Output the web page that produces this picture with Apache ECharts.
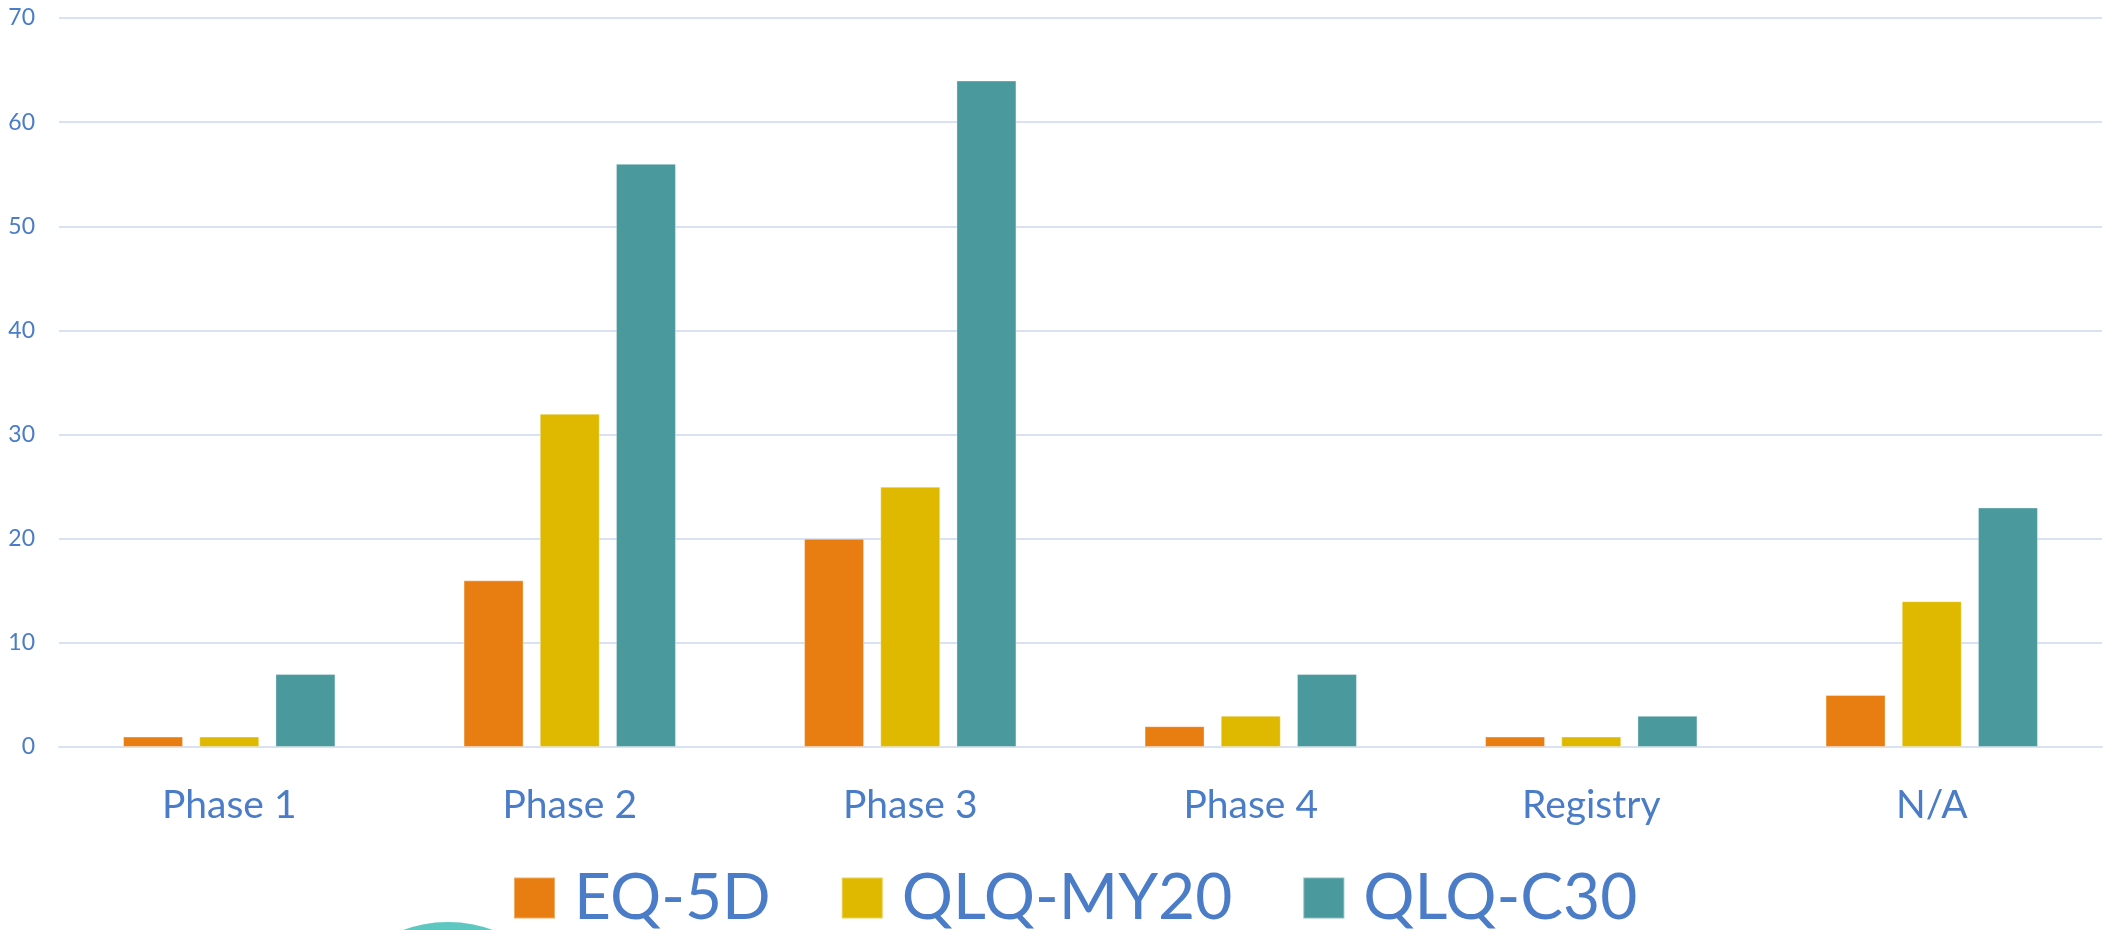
<!DOCTYPE html>
<html>
<head>
<meta charset="utf-8">
<script src="https://cdn.jsdelivr.net/npm/echarts@6/dist/echarts.min.js"></script>
<style>
  html, body { margin: 0; padding: 0; background: #fff; }
  #chart { width: 2113px; height: 930px; }
</style>
</head>
<body>
<div id="chart"></div>
<script>
var categories = ['Phase 1', 'Phase 2', 'Phase 3', 'Phase 4', 'Registry', 'N/A'];
var seriesNames = ['EQ-5D', 'QLQ-MY20', 'QLQ-C30'];
var eq5d = [1, 16, 20, 2, 1, 5];
var qlqMy20 = [1, 32, 25, 3, 1, 14];
var qlqC30 = [7, 56, 64, 7, 3, 23];
var colors = ['#E87E12', '#DEB900', '#4A999D'];

var labelBlue = '#4A7CC8';
var gridColor = '#D9E2F3';

var myChart = echarts.init(document.getElementById('chart'));

function bar(name, data, color) {
  return {
    name: name,
    type: 'bar',
    data: data,
    barWidth: 60,
    barGap: '27%',
    itemStyle: { color: color, borderColor: 'rgba(255,255,255,0.35)', borderWidth: 1 }
  };
}

var option = {
  animation: false,
  color: colors,
  textStyle: { fontFamily: 'Lato' },
  grid: { left: 59, right: 11, top: 18, bottom: 183 },
  legend: {
    left: 508,
    top: 861,
    itemWidth: 41,
    itemHeight: 41,
    itemGap: 70,
    icon: 'rect',
    data: seriesNames,
    textStyle: {
      fontFamily: 'Lato',
      fontSize: 64,
      color: labelBlue,
      padding: [0, 0, 0, 14]
    }
  },
  xAxis: {
    type: 'category',
    data: categories,
    axisLine: { lineStyle: { color: gridColor, width: 2 } },
    axisTick: { show: false },
    axisLabel: { color: labelBlue, fontSize: 39, margin: 39, fontFamily: 'Lato' }
  },
  yAxis: {
    type: 'value',
    min: 0,
    max: 70,
    interval: 10,
    axisLine: { show: false },
    axisTick: { show: false },
    axisLabel: { color: labelBlue, fontSize: 23, margin: 24, fontFamily: 'Lato' },
    splitLine: { lineStyle: { color: gridColor, width: 2 } }
  },
  graphic: [{
    type: 'circle',
    shape: { cx: 448, cy: 1052, r: 130 },
    style: { fill: '#5EC8C0' },
    silent: true
  }],
  series: [
    bar(seriesNames[0], eq5d, colors[0]),
    bar(seriesNames[1], qlqMy20, colors[1]),
    bar(seriesNames[2], qlqC30, colors[2])
  ]
};

myChart.setOption(option);
</script>
</body>
</html>
